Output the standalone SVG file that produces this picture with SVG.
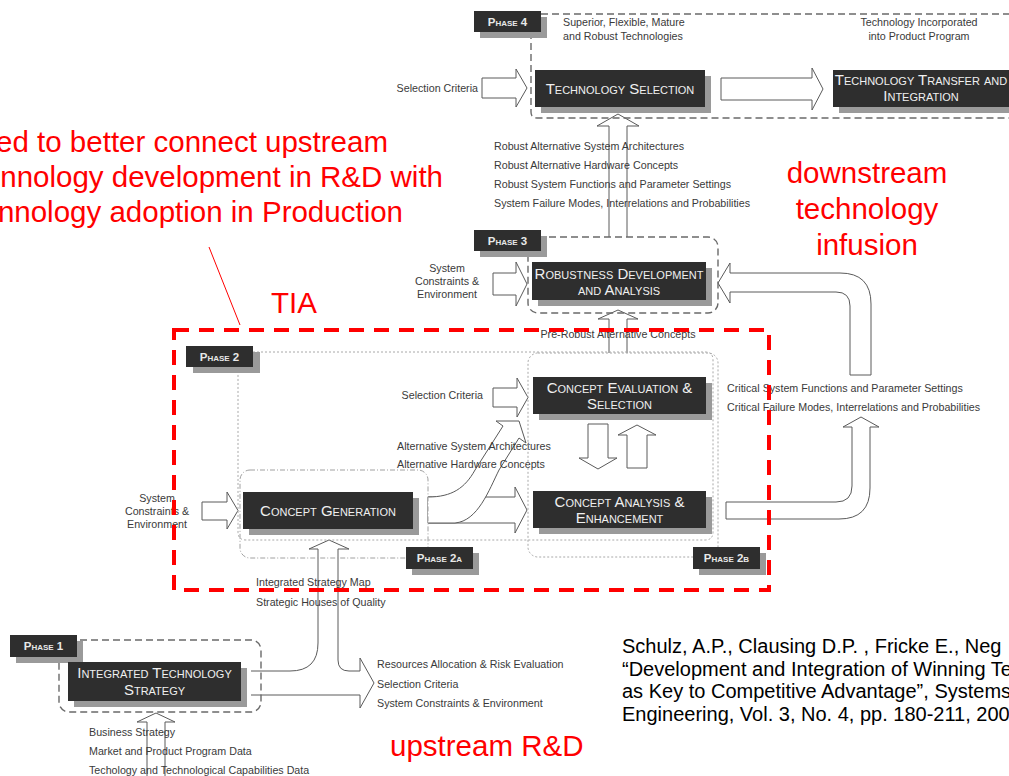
<svg xmlns="http://www.w3.org/2000/svg" width="1009" height="776" viewBox="0 0 1009 776">
  <style>
    text { font-family: "Liberation Sans", Arial, sans-serif; }
    .lbl { font-size: 10.7px; fill: #3a3a3a; }
    .lblm { font-size: 10.7px; fill: #3a3a3a; text-anchor: middle; }
    .lble { font-size: 10.7px; fill: #3a3a3a; text-anchor: end; }
    .box { fill: #2e2e2e; }
    .shadow { fill: #9a9a9a; }
    .bt { font-size: 15px; font-variant: small-caps; fill: #f0f0f0; text-anchor: middle; }
    .pt { font-size: 11.5px; font-variant: small-caps; fill: #e8e8e8; text-anchor: middle; font-weight: bold; }
    .hollow { fill: #ffffff; stroke: #5a5a5a; stroke-width: 1; stroke-linejoin: round; }
    .dash { fill: none; stroke: #6a6a6a; stroke-width: 1.4; stroke-dasharray: 7 4; }
    .dot { fill: none; stroke: #a8a8a8; stroke-width: 1; stroke-dasharray: 2 2; }
    .dotdash { fill: none; stroke: #a0a0a0; stroke-width: 1; stroke-dasharray: 5 2 1 2; }
    .red { font-size: 29.5px; fill: #ff0000; }
    .cite { font-size: 20px; fill: #000000; }
  </style>

  <!-- connectors: hollow block arrows between the stages -->
  <g id="connectors">
    <!-- phase 4 inputs and outputs -->
    <polygon class="hollow" points="482,78 516,78 516,69 527,88 516,107 516,98 482,98"/>
    <polygon class="hollow" points="721,78 812,78 812,68 823,89 812,110 812,100 721,100"/>
    <!-- phase 3 to phase 4 -->
    <polyline class="hollow" points="609,237 609,126 597,126 618,114 639,126 627,126 627,237"/>
    <!-- phase 3 input -->
    <polygon class="hollow" points="493,273 516,273 516,262 527,284 516,306 516,295 493,295"/>
    <!-- critical items back into phase 3 -->
    <path class="hollow" d="M850,375 V306 Q850,292 836,292 H730 V303 L718,283 L730,263 V273 H840 Q871,273 871,304 V375 Z"/>
    <!-- phase 2b up into phase 3 -->
    <polyline class="hollow" points="609,353 609,319 598,319 618,310 638,319 627,319 627,353"/>
    <!-- phase 2 selection criteria -->
    <polygon class="hollow" points="493,388 517,388 517,378 528,397.5 517,417 517,407 493,407"/>
    <!-- phase 2a input -->
    <polygon class="hollow" points="202,502 227,502 227,492 238,510.5 227,529 227,520 202,520"/>
    <!-- concept generation to analysis and evaluation -->
    <polygon class="hollow" points="428,497 515,497 515,487 527,510 515,533 515,523 428,523"/>
    <path class="hollow" d="M428,497 C452,497 465,488 475,470 L503,426 L496,421 L519,421 L526,443 L519,438 L499,470 C489,490 478,521 455,523 L428,523"/>
    <!-- evaluation / analysis loop -->
    <polygon class="hollow" points="588,424 608,424 608,458 617,458 598,469 579,458 588,458"/>
    <polygon class="hollow" points="627,468 627,435 618,435 637,425 656,435 647,435 647,468"/>
    <!-- analysis out to critical items -->
    <path class="hollow" d="M726,502 H836 Q852,502 852,486 V427 H843 L861,417 L879,427 H870 V488 Q870,519 839,519 H726 Z"/>
    <!-- phase 1 output: up to concept generation and right to the inputs list -->
    <path class="hollow" d="M251,671 H290 Q318,671 318,643 V549 H309 L329,540 L349,549 H338 V660 Q338,671 349,671 H360 V658 L374,683 L360,708 V695 H251"/>
    <!-- phase 1 input -->
    <polyline class="hollow" points="147,776 147,722 137,722 156,713 175,722 165,722 165,776"/>
  </g>

  <!-- Phase 4 -->
  <g id="phase4">
    <path class="dash" d="M541,14 H1009 M531,32 V112 Q531,118 537,118 H1009"/>
    <rect class="shadow" x="480" y="17" width="67" height="21"/>
    <rect class="box" x="474" y="11" width="67" height="21"/>
    <text class="pt" x="507.5" y="25.5">Phase 4</text>
    <text class="lbl" x="563" y="26">Superior, Flexible, Mature</text>
    <text class="lbl" x="563" y="40">and Robust Technologies</text>
    <text class="lblm" x="919" y="26">Technology Incorporated</text>
    <text class="lblm" x="919" y="40">into Product Program</text>
    <text class="lble" x="478" y="92">Selection Criteria</text>
  </g>
  <g id="technology-selection">
    <rect class="shadow" x="541" y="76" width="170" height="37"/>
    <rect class="box" x="535" y="70" width="170" height="37"/>
    <text class="bt" x="620" y="93.5">Technology Selection</text>
  </g>
  <g id="technology-transfer">
    <rect class="shadow" x="839" y="76" width="175" height="37"/>
    <rect class="box" x="833" y="70" width="180" height="37"/>
    <text class="bt" x="921" y="85">Technology Transfer and</text>
    <text class="bt" x="921" y="101">Integration</text>
  </g>

  <!-- items passed from phase 3 to phase 4 -->
  <g id="robust-items">
    <text class="lbl" x="494" y="149.5">Robust Alternative System Architectures</text>
    <text class="lbl" x="494" y="168.5">Robust Alternative Hardware Concepts</text>
    <text class="lbl" x="494" y="187.5">Robust System Functions and Parameter Settings</text>
    <text class="lbl" x="494" y="206.5">System Failure Modes, Interrelations and Probabilities</text>
  </g>

  <!-- Phase 3 -->
  <g id="phase3">
    <rect class="dash" x="528" y="237" width="190" height="76" rx="10"/>
    <rect class="shadow" x="480" y="236" width="67" height="21"/>
    <rect class="box" x="474" y="230" width="67" height="21"/>
    <text class="pt" x="507.5" y="244.5">Phase 3</text>
    <text class="lblm" x="447" y="272">System</text>
    <text class="lblm" x="447" y="285">Constraints &amp;</text>
    <text class="lblm" x="447" y="298">Environment</text>
  </g>
  <g id="robustness">
    <rect class="shadow" x="538" y="268" width="174" height="38"/>
    <rect class="box" x="532" y="262" width="174" height="38"/>
    <text class="bt" x="619" y="278.5">Robustness Development</text>
    <text class="bt" x="619" y="294.5">and Analysis</text>
  </g>
  <text class="lblm" x="618" y="338">Pre-Robust Alternative Concepts</text>
  <text class="lbl" x="727" y="391.5">Critical System Functions and Parameter Settings</text>
  <text class="lbl" x="727" y="410.5">Critical Failure Modes, Interrelations and Probabilities</text>

  <!-- Phase 2 -->
  <g id="phase2">
    <path class="dot" d="M253,352 H705 Q713,352 713,360 V532 Q713,540 705,540 H246 Q238,540 238,532 V367"/>
    <rect class="shadow" x="193" y="352" width="67" height="21"/>
    <rect class="box" x="186" y="346" width="67" height="21"/>
    <text class="pt" x="219.5" y="360.5">Phase 2</text>
    <text class="lble" x="483" y="398.5">Selection Criteria</text>
    <text class="lbl" x="397" y="449.5">Alternative System Architectures</text>
    <text class="lbl" x="397" y="467.5">Alternative Hardware Concepts</text>
  </g>
  <g id="phase2a">
    <rect class="dotdash" x="240" y="470" width="188" height="88" rx="10"/>
    <text class="lblm" x="157" y="502">System</text>
    <text class="lblm" x="157" y="515">Constraints &amp;</text>
    <text class="lblm" x="157" y="528">Environment</text>
    <rect class="shadow" x="412" y="553" width="67" height="22"/>
    <rect class="box" x="406" y="547" width="67" height="22"/>
    <text class="pt" x="439.5" y="562">Phase 2a</text>
  </g>
  <g id="concept-generation">
    <rect class="shadow" x="249" y="498" width="170" height="37"/>
    <rect class="box" x="243" y="492" width="170" height="37"/>
    <text class="bt" x="328" y="516">Concept Generation</text>
  </g>
  <g id="phase2b">
    <rect class="dot" x="528" y="353" width="190" height="204" rx="10"/>
    <rect class="shadow" x="699" y="553" width="67" height="22"/>
    <rect class="box" x="693" y="547" width="67" height="22"/>
    <text class="pt" x="726.5" y="562">Phase 2b</text>
  </g>
  <g id="concept-evaluation">
    <rect class="shadow" x="539" y="383" width="173" height="37"/>
    <rect class="box" x="533" y="377" width="173" height="37"/>
    <text class="bt" x="619.5" y="393">Concept Evaluation &amp;</text>
    <text class="bt" x="619.5" y="409">Selection</text>
  </g>
  <g id="concept-analysis">
    <rect class="shadow" x="539" y="497" width="173" height="37"/>
    <rect class="box" x="533" y="491" width="173" height="37"/>
    <text class="bt" x="619.5" y="507">Concept Analysis &amp;</text>
    <text class="bt" x="619.5" y="523">Enhancement</text>
  </g>
  <text class="lbl" x="256" y="586">Integrated Strategy Map</text>
  <text class="lbl" x="256" y="606">Strategic Houses of Quality</text>

  <!-- Phase 1 -->
  <g id="phase1">
    <rect class="dash" x="59" y="640" width="202" height="72" rx="10"/>
    <rect class="shadow" x="16" y="641" width="67" height="22"/>
    <rect class="box" x="10" y="635" width="67" height="22"/>
    <text class="pt" x="43.5" y="650">Phase 1</text>
    <text class="lbl" x="89" y="736">Business Strategy</text>
    <text class="lbl" x="89" y="755">Market and Product Program Data</text>
    <text class="lbl" x="89" y="774">Techology and Technological Capabilities Data</text>
    <text class="lbl" x="377" y="668">Resources Allocation &amp; Risk Evaluation</text>
    <text class="lbl" x="377" y="688">Selection Criteria</text>
    <text class="lbl" x="377" y="707">System Constraints &amp; Environment</text>
  </g>
  <g id="integrated-technology-strategy">
    <rect class="shadow" x="74" y="668" width="173" height="39"/>
    <rect class="box" x="68" y="662" width="173" height="39"/>
    <text class="bt" x="154.5" y="678">Integrated Technology</text>
    <text class="bt" x="154.5" y="695">Strategy</text>
  </g>

  <!-- annotation layer -->
  <g id="tia">
    <rect x="174" y="330" width="595" height="260" fill="none" stroke="#ff0000" stroke-width="4" stroke-dasharray="15 10"/>
    <line x1="209" y1="247" x2="240" y2="325" stroke="#ff0000" stroke-width="1"/>
    <text class="red" x="271" y="313">TIA</text>
  </g>
  <g id="notes">
    <text class="red" x="388" y="152" text-anchor="end">ed to better connect upstream</text>
    <text class="red" x="443" y="187" text-anchor="end">nnology development in R&amp;D with</text>
    <text class="red" x="403" y="222" text-anchor="end">nnology adoption in Production</text>
    <text class="red" x="867" y="183" text-anchor="middle">downstream</text>
    <text class="red" x="867" y="219" text-anchor="middle">technology</text>
    <text class="red" x="867" y="255" text-anchor="middle">infusion</text>
    <text class="red" x="390" y="756">upstream R&amp;D</text>
  </g>
  <g id="citation">
    <text class="cite" x="622" y="653">Schulz, A.P., Clausing D.P. , Fricke E., Neg</text>
    <text class="cite" x="622" y="675.5">“Development and Integration of Winning Te</text>
    <text class="cite" x="622" y="698">as Key to Competitive Advantage”, Systems</text>
    <text class="cite" x="622" y="720.5">Engineering, Vol. 3, No. 4, pp. 180-211, 200</text>
  </g>
</svg>
